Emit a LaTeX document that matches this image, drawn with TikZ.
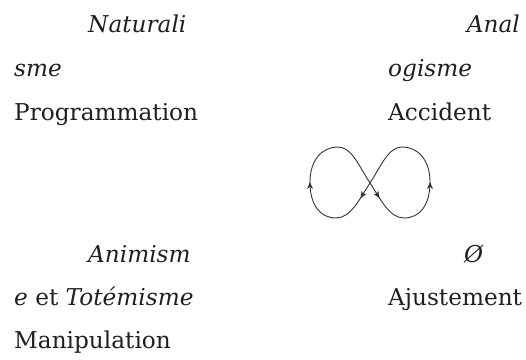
\documentclass[tikz,border=0pt]{standalone}
\usepackage{fontspec}
\setmainfont{DejaVu Serif}
\usetikzlibrary{arrows.meta,decorations.markings}
\begin{document}
\begin{tikzpicture}[x=1pt,y=-1pt,
  lbl/.style={anchor=base west,inner sep=0pt,text=black!88,font=\fontsize{23.2}{27}\selectfont},
  lblr/.style={lbl,anchor=base east},
  loop/.style={draw=black!80,line width=0.9pt}]
\useasboundingbox (0,0) rectangle (526,359);
% left column
\node[lbl] (nat1) at (88,32) {\itshape Naturali};
\node[lbl] (nat2) at (14,76) {\itshape sme};
\node[lbl] (prog) at (14,120) {Programmation};
\node[lbl] (ani1) at (88,262) {\itshape Animism};
\node[lbl] (ani2) at (14,305) {\itshape e\/\upshape{} et \itshape Totémisme};
\node[lbl] (mani) at (14,348) {Manipulation};
% right column
\node[lblr] (ana1) at (520,32) {\itshape Anal};
\node[lbl] (ana2) at (388,76) {\itshape ogisme};
\node[lbl] (acc) at (388,120) {Accident};
\node[lbl] (empty) at (464,262) {\itshape Ø};
\node[lbl] (aju) at (388,305) {Ajustement};
% infinity loop
\coordinate (C) at (370,183);
\coordinate (BL) at (336,218);
\coordinate (L) at (310,182);
\coordinate (TL) at (338,147);
\coordinate (BR) at (404,218);
\coordinate (R) at (430,182);
\coordinate (TR) at (402,147);
\path[loop,postaction={decorate},decoration={markings,
   mark=at position 0.35 with {\arrow{Stealth[length=7pt,width=6pt]}}}]
  (C) .. controls (360,198) and (351,218) .. (BL);
\path[loop,postaction={decorate},decoration={markings,
   mark=at position 0.999 with {\arrow{Stealth[length=7pt,width=6pt]}}}]
  (BL) .. controls (320,218) and (310,205) .. (L);
\path[loop] (L) .. controls (310,160) and (322,147) .. (TL)
  .. controls (352,147) and (360,168) .. (C);
\path[loop,postaction={decorate},decoration={markings,
   mark=at position 0.35 with {\arrow{Stealth[length=7pt,width=6pt]}}}]
  (C) .. controls (380,198) and (389,218) .. (BR);
\path[loop,postaction={decorate},decoration={markings,
   mark=at position 0.999 with {\arrow{Stealth[length=7pt,width=6pt]}}}]
  (BR) .. controls (420,218) and (430,205) .. (R);
\path[loop] (R) .. controls (430,160) and (418,147) .. (TR)
  .. controls (388,147) and (380,168) .. (C);
\end{tikzpicture}
\end{document}
